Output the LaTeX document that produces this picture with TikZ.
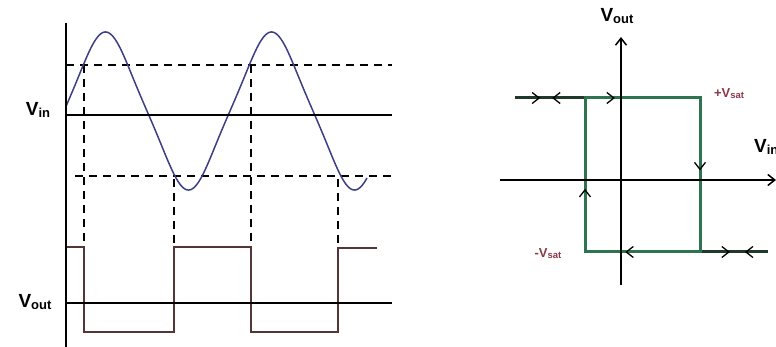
\documentclass[tikz,border=0pt]{standalone}
\usepackage{fontspec}
\setmainfont{Liberation Sans}
\usetikzlibrary{arrows.meta,decorations.markings}
\definecolor{wave}{HTML}{3C3F85}
\definecolor{sqcol}{HTML}{553636}
\definecolor{loopcol}{HTML}{2F7450}
\definecolor{tailcol}{HTML}{1F3A2C}
\definecolor{satcol}{HTML}{8B3A4A}
\newcommand{\bigV}[2]{{\fontsize{19}{19}\selectfont V}\raisebox{-1.5pt}{\fontsize{13}{13}\selectfont #1}}
\newcommand{\satV}[2]{{\fontsize{13}{13}\selectfont #2V}\raisebox{-1pt}{\fontsize{9.5}{9.5}\selectfont #1}}
\begin{document}
\begin{tikzpicture}[x=1pt,y=-1pt,
  axisln/.style={line width=2pt,black},
  dashln/.style={line width=1.3pt,black,dash pattern=on 8pt off 6pt},
  sqw/.style={sqcol,line width=1.3pt},
  sinw/.style={wave,line width=1.5pt},
  lbl/.style={font=\bfseries,inner sep=0pt},
  raxis/.style={line width=1.5pt,black,-{Straight Barb[length=7pt,width=11pt]}},
  loopln/.style={draw=loopcol,line width=3pt},
  tailln/.style={draw=tailcol,line width=3pt},
  arr/.style={postaction={decorate,decoration={markings,mark=at position #1 with {\arrow[black,line width=1.3pt]{Straight Barb[length=7pt,width=11pt]}}}}},
  rarr/.style={postaction={decorate,decoration={markings,mark=at position #1 with {\arrowreversed[black,line width=1.3pt]{Straight Barb[length=7pt,width=11pt]}}}}}
]
\useasboundingbox (0,0) rectangle (776,347);

% ---------- left: waveforms ----------
\draw[dashln] (66,65) -- (392,65);
\draw[dashln] (75,176) -- (392,176);
\draw[dashln] (84,65) -- (84,247);
\draw[dashln] (174,179) -- (174,247);
\draw[dashln] (251,65) -- (251,247);
\draw[dashln] (338,179) -- (338,247);

\draw[sqw] (66,247) -- (84,247) -- (84,332) -- (174,332) -- (174,247) -- (251,247) -- (251,332) -- (338,332) -- (338,248) -- (377,248);

\draw[sinw] plot[domain=66:367,samples=200,smooth] (\x,{111-74.5*(sin((\x-64)*2.16867)-0.061*sin((\x-64)*6.50602))});

\draw[axisln] (66,23) -- (66,347);
\draw[axisln] (66,115) -- (392,115);
\draw[axisln] (66,303) -- (392,303);

\node[lbl] (vinl) at (38,110) {\bigV{in}{}};
\node[lbl] (voutl) at (35,302) {\bigV{out}{}};

% ---------- right: hysteresis loop ----------
\coordinate (tl) at (515,98);
\coordinate (A) at (585,98);
\coordinate (B) at (700,98);
\coordinate (C) at (700,252);
\coordinate (D) at (585,252);
\coordinate (br) at (768,252);

\path[tailln] (tl) -- (A);
\path[tailln] (C) -- (br);
\path[loopln] (A) -- (B) -- (C) -- (D) -- cycle;

\draw[raxis] (500,180) -- (776,180);
\draw[raxis] (621,285) -- (621,37);

\path[arr=0.36,rarr=0.53] (tl) -- (A);
\path[arr=0.26] (A) -- (B);
\path[arr=0.47] (B) -- (C);
\path[arr=0.65] (C) -- (D);
\path[arr=0.41] (D) -- (A);
\path[arr=0.44,rarr=0.66] (C) -- (br);

\node[lbl] (voutr) at (617,16) {\bigV{out}{}};
\node[lbl,anchor=west] (vinr) at (754,147) {\bigV{in}{}};
\node[lbl,text=satcol] (psat) at (729,94) {\satV{sat}{+}};
\node[lbl,text=satcol] (nsat) at (548,254) {\satV{sat}{-}};
\end{tikzpicture}
\end{document}
